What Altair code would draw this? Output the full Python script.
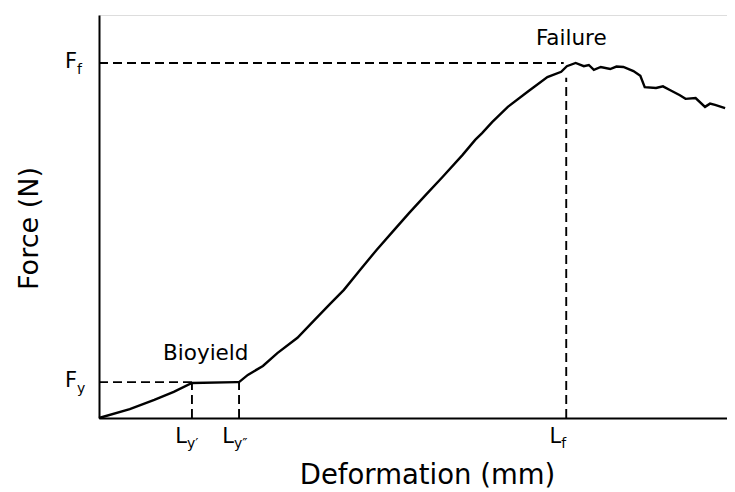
import altair as alt
import pandas as pd

# ---- data (arbitrary units: deformation 0-100, force 0-100) ----
deformation = [0.0, 4.9, 8.8, 11.9, 14.8, 21.9, 22.3, 23.7, 26.1, 28.4, 31.6, 34.3,
               36.8, 39.0, 41.6, 44.2, 46.8, 49.4, 52.0, 54.7, 57.9, 59.9, 61.0,
               62.6, 65.1, 68.2, 71.4, 73.6, 74.5, 75.9, 77.2, 78.0, 78.8, 79.9,
               81.4, 82.4, 83.5, 85.1, 86.2, 86.9, 88.7, 89.8, 90.9, 92.5, 93.4,
               95.0, 96.5, 97.3, 98.1, 99.7]
force = [0.0, 2.2, 4.5, 6.5, 8.7, 8.9, 8.9, 10.7, 12.9, 16.1, 19.9, 24.3,
         28.3, 31.8, 36.8, 41.7, 46.3, 50.9, 55.3, 59.8, 65.3, 69.0, 70.7,
         73.4, 77.2, 80.9, 84.6, 85.9, 87.3, 88.1, 87.3, 87.6, 86.4, 87.1,
         86.6, 87.2, 87.1, 86.1, 84.9, 82.1, 81.9, 82.3, 81.4, 80.1, 79.2,
         79.4, 77.2, 78.0, 77.7, 76.9]

F_f, F_y = 88.1, 8.9
L_y1, L_y2, L_f = 14.8, 22.3, 74.4
F_f_end = 74.0
L_f_top = 84.4

annot_text = ["Failure", "Bioyield"]
annot_x = [75.2, 17.0]
annot_y = [92.6, 14.4]

y_tick_vals = [F_f, F_y]
y_tick_main = ["F", "F"]
y_tick_sub = ["f", "y"]

x_tick_vals = [L_y1, L_y2, L_f]
x_tick_main = ["L", "L", "L"]
x_tick_sub = ["y\u2032", "y\u2033", "f"]

FONT = "DejaVu Sans"
W, H = 628, 403

curve = pd.DataFrame({"x": deformation, "y": force})
rules_df = pd.DataFrame({
    "x":  [0.0, 0.0, L_y1, L_y2, L_f],
    "x2": [F_f_end, L_y1, L_y1, L_y2, L_f],
    "y":  [F_f, F_y, 0.0, 0.0, 0.0],
    "y2": [F_f, F_y, F_y, F_y, L_f_top],
})
annot = pd.DataFrame({"t": annot_text, "x": annot_x, "y": annot_y})
ylab = pd.DataFrame({"y": y_tick_vals, "m": y_tick_main, "s": y_tick_sub})
xlab = pd.DataFrame({"x": x_tick_vals, "m": x_tick_main, "s": x_tick_sub})

xs = alt.Scale(domain=[0, 100], nice=False, zero=False)
ys = alt.Scale(domain=[0, 100], nice=False, zero=False)

line = alt.Chart(curve).mark_line(color="black", strokeWidth=2.4).encode(
    x=alt.X("x:Q", scale=xs, axis=alt.Axis(
        title="Deformation (mm)", labels=False, ticks=False, grid=False,
        domainColor="black", domainWidth=2, titleFont=FONT, titleFontSize=27.5,
        titleFontWeight="normal", titleColor="black", titleAlign="center",
        titleBaseline="alphabetic", titleX=328, titleY=65)),
    y=alt.Y("y:Q", scale=ys, axis=alt.Axis(
        title="Force (N)", labels=False, ticks=False, grid=False,
        domainColor="black", domainWidth=2, titleFont=FONT, titleFontSize=27,
        titleFontWeight="normal", titleColor="black", titleAlign="center",
        titleBaseline="alphabetic", titleAngle=270, titleX=-62, titleY=213)),
)

rules = alt.Chart(rules_df).mark_rule(color="black", strokeWidth=1.9,
                                      strokeDash=[9, 5]).encode(
    x=alt.X("x:Q", scale=xs), x2="x2:Q",
    y=alt.Y("y:Q", scale=ys), y2="y2:Q")

annots = alt.Chart(annot).mark_text(font=FONT, fontSize=21.5, color="black",
                                    align="center", baseline="alphabetic").encode(
    x=alt.X("x:Q", scale=xs), y=alt.Y("y:Q", scale=ys), text="t:N")

ymain = alt.Chart(ylab).mark_text(font=FONT, fontSize=21, color="black",
                                  align="right", baseline="alphabetic", dy=5).encode(
    x=alt.value(-22), y=alt.Y("y:Q", scale=ys), text="m:N")
ysub = alt.Chart(ylab).mark_text(font=FONT, fontSize=14, color="black",
                                 align="left", baseline="alphabetic", dy=11).encode(
    x=alt.value(-22), y=alt.Y("y:Q", scale=ys), text="s:N")

xmain = alt.Chart(xlab).mark_text(font=FONT, fontSize=21, color="black",
                                  align="right", baseline="alphabetic", dx=-5).encode(
    x=alt.X("x:Q", scale=xs), y=alt.value(H + 25), text="m:N")
xsub = alt.Chart(xlab).mark_text(font=FONT, fontSize=14, color="black",
                                 align="left", baseline="alphabetic", dx=-5).encode(
    x=alt.X("x:Q", scale=xs), y=alt.value(H + 30), text="s:N")

chart = alt.layer(rules, line, annots, ymain, ysub, xmain, xsub).properties(
    width=W, height=H,
    autosize=alt.AutoSizeParams(type="none"),
    padding={"left": 91, "top": 7, "right": 0, "bottom": 70},
).configure_view(stroke=None).configure(background="white")

chart.save("out.html", embed_options={"renderer": "svg", "actions": False})
